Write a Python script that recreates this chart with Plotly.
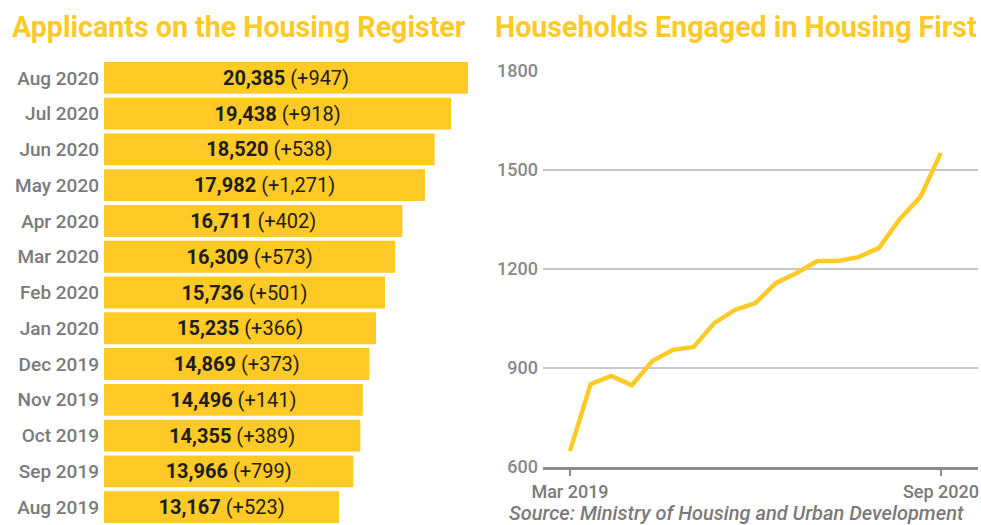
import plotly.graph_objects as go

# ---- Data: Applicants on the Housing Register ----
reg_months = ["Aug 2019", "Sep 2019", "Oct 2019", "Nov 2019", "Dec 2019", "Jan 2020",
              "Feb 2020", "Mar 2020", "Apr 2020", "May 2020", "Jun 2020", "Jul 2020", "Aug 2020"]
reg_values = [13167, 13966, 14355, 14496, 14869, 15235, 15736, 16309, 16711, 17982, 18520, 19438, 20385]
reg_change = [523, 799, 389, 141, 373, 366, 501, 573, 402, 1271, 538, 918, 947]

# ---- Data: Households Engaged in Housing First ----
hf_months = ["Mar 2019", "Apr 2019", "May 2019", "Jun 2019", "Jul 2019", "Aug 2019", "Sep 2019",
             "Oct 2019", "Nov 2019", "Dec 2019", "Jan 2020", "Feb 2020", "Mar 2020", "Apr 2020",
             "May 2020", "Jun 2020", "Jul 2020", "Aug 2020", "Sep 2020"]
hf_values = [648, 851, 876, 848, 921, 955, 964, 1036, 1076, 1097, 1158, 1188, 1224, 1224,
             1236, 1264, 1351, 1418, 1552]
hf_ticks = ["Mar 2019", "Sep 2020"]
hf_yticks = [600, 900, 1200, 1500, 1800]

YELLOW = "#FFC926"
GRAY = "#7a7a7a"
FONT = "Roboto"
W, H = 981, 525

bar_text = [f"<b>{v:,}</b> (+{c:,})" for v, c in zip(reg_values, reg_change)]

fig = go.Figure()
fig.add_trace(go.Bar(
    x=reg_values, y=reg_months, orientation="h",
    marker=dict(color=YELLOW, line=dict(width=0)),
    text=bar_text, textposition="inside", insidetextanchor="middle",
    textfont=dict(family=FONT, size=20, color="#1e1e1e"),
    constraintext="none", cliponaxis=False,
    hoverinfo="skip", xaxis="x", yaxis="y",
))
fig.add_trace(go.Scatter(
    x=hf_months, y=hf_values, mode="lines",
    line=dict(color=YELLOW, width=4.5),
    hoverinfo="skip", xaxis="x2", yaxis="y2",
))

def px(xp):
    return xp / W

def py(yp):
    return (H - yp) / H

fig.update_layout(
    width=W, height=H,
    margin=dict(l=0, r=0, t=0, b=0, autoexpand=False),
    paper_bgcolor="white", plot_bgcolor="white",
    showlegend=False,
    bargap=0.11,
    font=dict(family=FONT, color=GRAY),
    xaxis=dict(domain=[px(104), px(468)], range=[0, 20385], visible=False, fixedrange=True,
               automargin=False),
    yaxis=dict(domain=[0, py(60)], range=[-0.5, 12.5], type="category",
               showgrid=False, showline=False, ticks="", zeroline=False, automargin=False,
               tickfont=dict(family=FONT, size=19, color=GRAY, weight=500),
               ticklabelstandoff=4),
    xaxis2=dict(domain=[px(543), px(978)], type="category", range=[-1.31, 19.8],
                anchor="y2", tickmode="array", tickvals=hf_ticks, ticktext=hf_ticks,
                showgrid=False, showline=True, linecolor="#8c8c8c", linewidth=3,
                ticks="outside", ticklen=6, tickwidth=2, tickcolor="#8c8c8c",
                tickfont=dict(family=FONT, size=18, color=GRAY, weight=500),
                zeroline=False, automargin=False),
    yaxis2=dict(domain=[py(467), py(71)], range=[600, 1800], anchor="x2",
                tickmode="array", tickvals=hf_yticks,
                showgrid=True, gridcolor="#c8c8cc", gridwidth=1.5,
                showline=False, zeroline=False, ticks="", automargin=False,
                tickfont=dict(family=FONT, size=18, color="#888888", weight=500),
                ticklabelstandoff=4),
    annotations=[
        dict(text="<b>Applicants on the Housing Register</b>", x=px(10), y=py(27),
             xref="paper", yref="paper", xanchor="left", yanchor="middle", showarrow=False,
             font=dict(family=FONT, size=28.6, color=YELLOW)),
        dict(text="<b>Households Engaged in Housing First</b>", x=px(736), y=py(27),
             xref="paper", yref="paper", xanchor="center", yanchor="middle", showarrow=False,
             font=dict(family=FONT, size=28.6, color=YELLOW)),
        dict(text="Source: Ministry of Housing and Urban Development", x=px(736), y=py(513),
             xref="paper", yref="paper", xanchor="center", yanchor="middle", showarrow=False,
             font=dict(family=FONT, size=20, color=GRAY, style="italic", weight=500)),
    ],
)

fig.write_html(
    "out.html",
    config={"displayModeBar": False, "staticPlot": True},
    post_script="document.body.style.margin='0';document.body.style.overflow='hidden';",
)
